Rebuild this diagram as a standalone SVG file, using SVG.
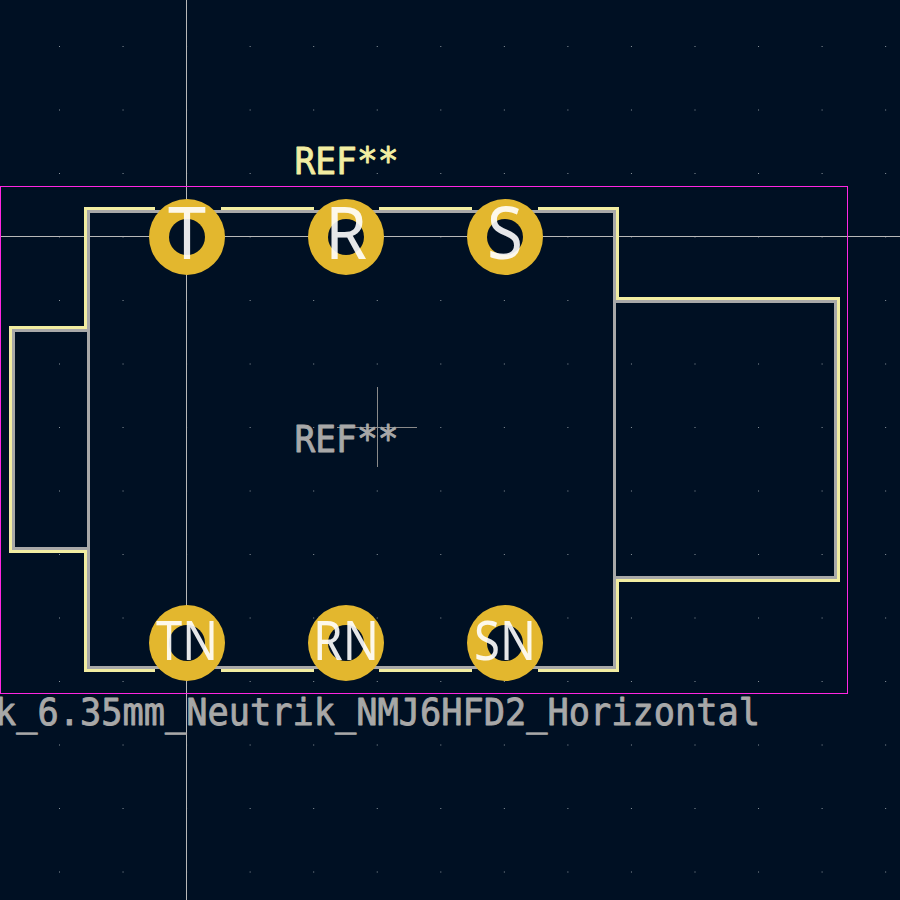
<svg xmlns="http://www.w3.org/2000/svg" width="900" height="900" viewBox="0 0 900 900">
<style>
.silk{fill:none;stroke:#f2eda1;stroke-width:3}
.fab{fill:none;stroke:#a8a8a8;stroke-width:3}
.pad{fill:#e3b72e}
.hole{fill:#001023}
.padt{font-family:"Noto Sans",sans-serif;fill:#fff;fill-opacity:.9;text-anchor:middle}
.big{font-size:73px}
.small{font-size:55px}
.stroke{font-family:"DejaVu Sans Mono",monospace;font-size:38px;stroke-width:.9;stroke-linejoin:round}
.cross{stroke:#b8b8b8;stroke-width:1;fill:none}
.dots{stroke:#8a949c;stroke-width:1;stroke-dasharray:1 62.55;fill:none}
</style>
<rect width="900" height="900" fill="#001023"/>
<path id="grid-dots" class="dots" d="M59 46.500H900M59 110H900M59 173.500H900M59 237H900M59 300.500H900M59 364H900M59 427.500H900M59 491H900M59 554.500H900M59 618H900M59 681.500H900M59 745H900M59 808.500H900M59 872H900"/>
<g id="connectors">
<path class="cross" d="M186.500 0V900M0 236.500H900"/>
<path d="M377.500 387V467M337 427.500H417" stroke="#8a8a8a" stroke-width="1" fill="none"/>
<rect x="0.500" y="186.500" width="847" height="507" fill="none" stroke="#ff26e2" stroke-width="1"/>
</g>
<g id="fab-outline">
<path class="fab" d="M88.500 211.500H614.500V667.500H88.500Z"/>
<path class="fab" d="M614.500 301.500H835.500V577.500H614.500"/>
<path class="fab" d="M88.500 330.500H13.500V548.500H88.500"/>
</g>
<g id="silk-outline">
<path class="silk" d="M155 208.500H85.500V327.500H10.500V551.500H85.500V670.500H155"/>
<path class="silk" d="M221 208.500H314M379 208.500H472"/>
<path class="silk" d="M538 208.500H617.500V298.500H838.500V580.500H617.500V670.500H538"/>
<path class="silk" d="M221 670.500H314M379 670.500H472"/>
</g>
<g id="pad-T"><circle class="pad" cx="187" cy="237" r="38"/><circle class="hole" cx="187" cy="237" r="18"/><text class="padt big" x="187" y="259" textLength="38" lengthAdjust="spacingAndGlyphs">T</text></g>
<g id="pad-R"><circle class="pad" cx="346" cy="237" r="38"/><circle class="hole" cx="346" cy="237" r="18"/><text class="padt big" x="346" y="259" textLength="42" lengthAdjust="spacingAndGlyphs">R</text></g>
<g id="pad-S"><circle class="pad" cx="505" cy="237" r="38"/><circle class="hole" cx="505" cy="237" r="18"/><text class="padt big" x="505" y="259" textLength="36" lengthAdjust="spacingAndGlyphs">S</text></g>
<g id="pad-TN"><circle class="pad" cx="187" cy="643" r="38"/><circle class="hole" cx="187" cy="643" r="18"/><text class="padt small" x="187" y="660" textLength="62" lengthAdjust="spacingAndGlyphs">TN</text></g>
<g id="pad-RN"><circle class="pad" cx="346" cy="643" r="38"/><circle class="hole" cx="346" cy="643" r="18"/><text class="padt small" x="346" y="660" textLength="66" lengthAdjust="spacingAndGlyphs">RN</text></g>
<g id="pad-SN"><circle class="pad" cx="505" cy="643" r="38"/><circle class="hole" cx="505" cy="643" r="18"/><text class="padt small" x="505" y="660" textLength="62" lengthAdjust="spacingAndGlyphs">SN</text></g>
<g id="labels">
<text class="stroke" x="294.500" y="174" fill="#f2eda1" stroke="#f2eda1" textLength="104" lengthAdjust="spacingAndGlyphs">REF**</text>
<text class="stroke" x="294.500" y="452" fill="#a8a8a8" stroke="#a8a8a8" textLength="104" lengthAdjust="spacingAndGlyphs">REF**</text>
<text class="stroke" x="-5" y="725" fill="#a8a8a8" stroke="#a8a8a8" textLength="765" lengthAdjust="spacingAndGlyphs">k_6.35mm_Neutrik_NMJ6HFD2_Horizontal</text>
</g>
</svg>
